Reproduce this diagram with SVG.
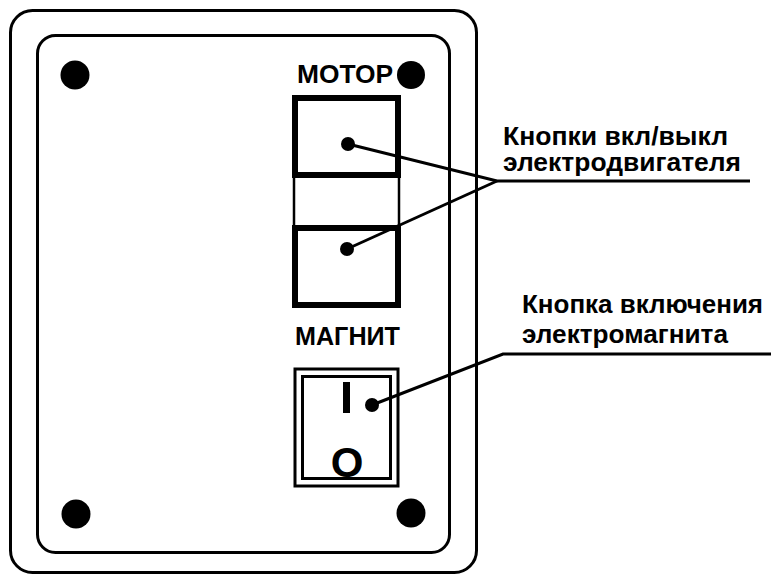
<svg xmlns="http://www.w3.org/2000/svg" width="771" height="576" viewBox="0 0 771 576">
<style>
.frame{fill:none;stroke:#000;stroke-width:3}
.btn{fill:none;stroke:#000;stroke-width:6}
.thin{fill:none;stroke:#000;stroke-width:2.5}
.lead{fill:none;stroke:#000;stroke-width:3}
.t{font-family:"Liberation Sans",Arial,sans-serif;font-weight:bold;fill:#000}
</style>
<rect width="771" height="576" fill="#fff"/>
<g id="panel">
<rect class="frame" x="10.5" y="10.5" width="466" height="562" rx="22"/>
<rect class="frame" x="37.5" y="35.5" width="412" height="517" rx="18"/>
<circle cx="75" cy="75" r="14.5"/>
<circle cx="411" cy="75" r="14"/>
<circle cx="76" cy="514" r="14.5"/>
<circle cx="411" cy="513" r="14.5"/>
</g>
<g id="motor-buttons">
<text class="t" x="297" y="83" font-size="25" textLength="96" lengthAdjust="spacingAndGlyphs">МОТОР</text>
<rect class="thin" x="294" y="175" width="105" height="52"/>
<rect class="btn" x="295" y="98" width="103" height="77"/>
<rect class="btn" x="295" y="228" width="103" height="77"/>
<circle cx="348" cy="144" r="7"/>
<circle cx="347" cy="249" r="7"/>
<text class="t" x="295" y="345" font-size="25" textLength="105" lengthAdjust="spacingAndGlyphs">МАГНИТ</text>
</g>
<g id="magnet-switch">
<rect class="frame" x="295" y="369" width="103" height="117"/>
<rect class="frame" x="302.5" y="376.5" width="88" height="102"/>
<rect x="343" y="382" width="7" height="31"/>
<text class="t" x="347" y="477" font-size="42" text-anchor="middle">O</text>
<circle cx="372" cy="405" r="7"/>
</g>
<g id="label-motor">
<text class="t" x="503" y="145" font-size="25" textLength="225" lengthAdjust="spacingAndGlyphs">Кнопки вкл/выкл</text>
<text class="t" x="503" y="171" font-size="25" textLength="238" lengthAdjust="spacingAndGlyphs">электродвигателя</text>
</g>
<g id="label-magnet">
<text class="t" x="522" y="313" font-size="25" textLength="241" lengthAdjust="spacingAndGlyphs">Кнопка включения</text>
<text class="t" x="522" y="343" font-size="25" textLength="206" lengthAdjust="spacingAndGlyphs">электромагнита</text>
</g>
<g id="connectors">
<polyline class="lead" points="348,144 497,181 750,181"/>
<line class="lead" x1="347" y1="249" x2="497" y2="181"/>
<polyline class="lead" points="372,405 503,354 771,354"/>
</g>
</svg>
